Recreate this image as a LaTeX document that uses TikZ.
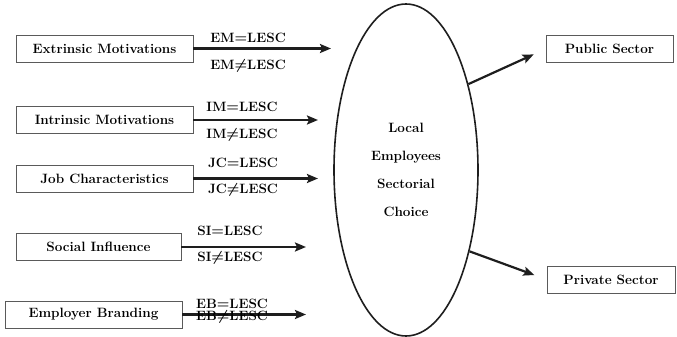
\documentclass[tikz,border=0pt]{standalone}
\usetikzlibrary{arrows.meta, positioning, shapes.geometric}
\definecolor{cline}{HTML}{1E1E1E}
\definecolor{cbox}{HTML}{5A5A5A}
\tikzset{
  every picture/.style={x=1pt, y=-1pt, font=\fontsize{13.5}{16}\selectfont\bfseries\boldmath},
  box/.style={draw=cbox, line width=0.9pt, minimum height=27pt, inner sep=2pt},
  arrow/.style={-{Stealth[length=11pt, width=9pt, inset=2pt]}, draw=cline, line width=2.2pt},
  tag/.style={inner sep=0pt},
}

\begin{document}
\begin{tikzpicture}
  \useasboundingbox (0,0) rectangle (677,337);
  % factors
  \node[box, minimum width=177pt] (em) at (104.5,48.5) {Extrinsic Motivations};
  \node[box, minimum width=177pt] (im) at (104.5,120) {Intrinsic Motivations};
  \node[box, minimum width=177pt] (jc) at (104.5,178.5) {Job Characteristics};
  \node[box, minimum width=165pt] (si) at (98.5,247) {Social Influence};
  \node[box, minimum width=177pt] (eb) at (93.5,314.5) {Employer Branding};
  \coordinate (emend) at (331,48.5);
  \coordinate (imend) at (318,120);
  \coordinate (jcend) at (318,178.5);
  \coordinate (siend) at (306,247);
  \coordinate (ebend) at (306,314.5);
  \draw[arrow] (em.east) -- (emend);
  \draw[arrow] (im.east) -- (imend);
  \draw[arrow] (jc.east) -- (jcend);
  \draw[arrow] (si.east) -- (siend);
  \draw[arrow] (eb.east) -- (ebend);
  \node[tag] (emeq) at (248,38) {EM$=$LESC};
  \node[tag] (emne) at (248,66) {EM$\neq$LESC};
  \node[tag] (imeq) at (242,107) {IM$=$LESC};
  \node[tag] (imne) at (242,135) {IM$\neq$LESC};
  \node[tag] (jceq) at (243,163) {JC$=$LESC};
  \node[tag] (jcne) at (243,190) {JC$\neq$LESC};
  \node[tag] (sieq) at (230,231) {SI$=$LESC};
  \node[tag] (sine) at (230,258) {SI$\neq$LESC};
  \node[tag] (ebeq) at (232,304) {EB$=$LESC};
  \node[tag] (ebne) at (232,317) {EB$\neq$LESC};
  % choice
  \node[draw=cline, line width=1.6pt, ellipse, minimum width=144pt, minimum height=332pt,
        align=center, font=\fontsize{13.5}{28}\selectfont\bfseries] (lesc) at (406,170)
        {Local\\ Employees\\ Sectorial\\ Choice};
  % sectors
  \node[box, minimum width=127pt] (pub) at (609.5,49) {Public Sector};
  \node[box, minimum width=128pt] (pri) at (611,279.5) {Private Sector};
  \draw[arrow, shorten >=13pt] (lesc.54) -- (pub.west);
  \draw[arrow, shorten >=13pt] (lesc.-52) -- (pri.west);
\end{tikzpicture}
\end{document}
